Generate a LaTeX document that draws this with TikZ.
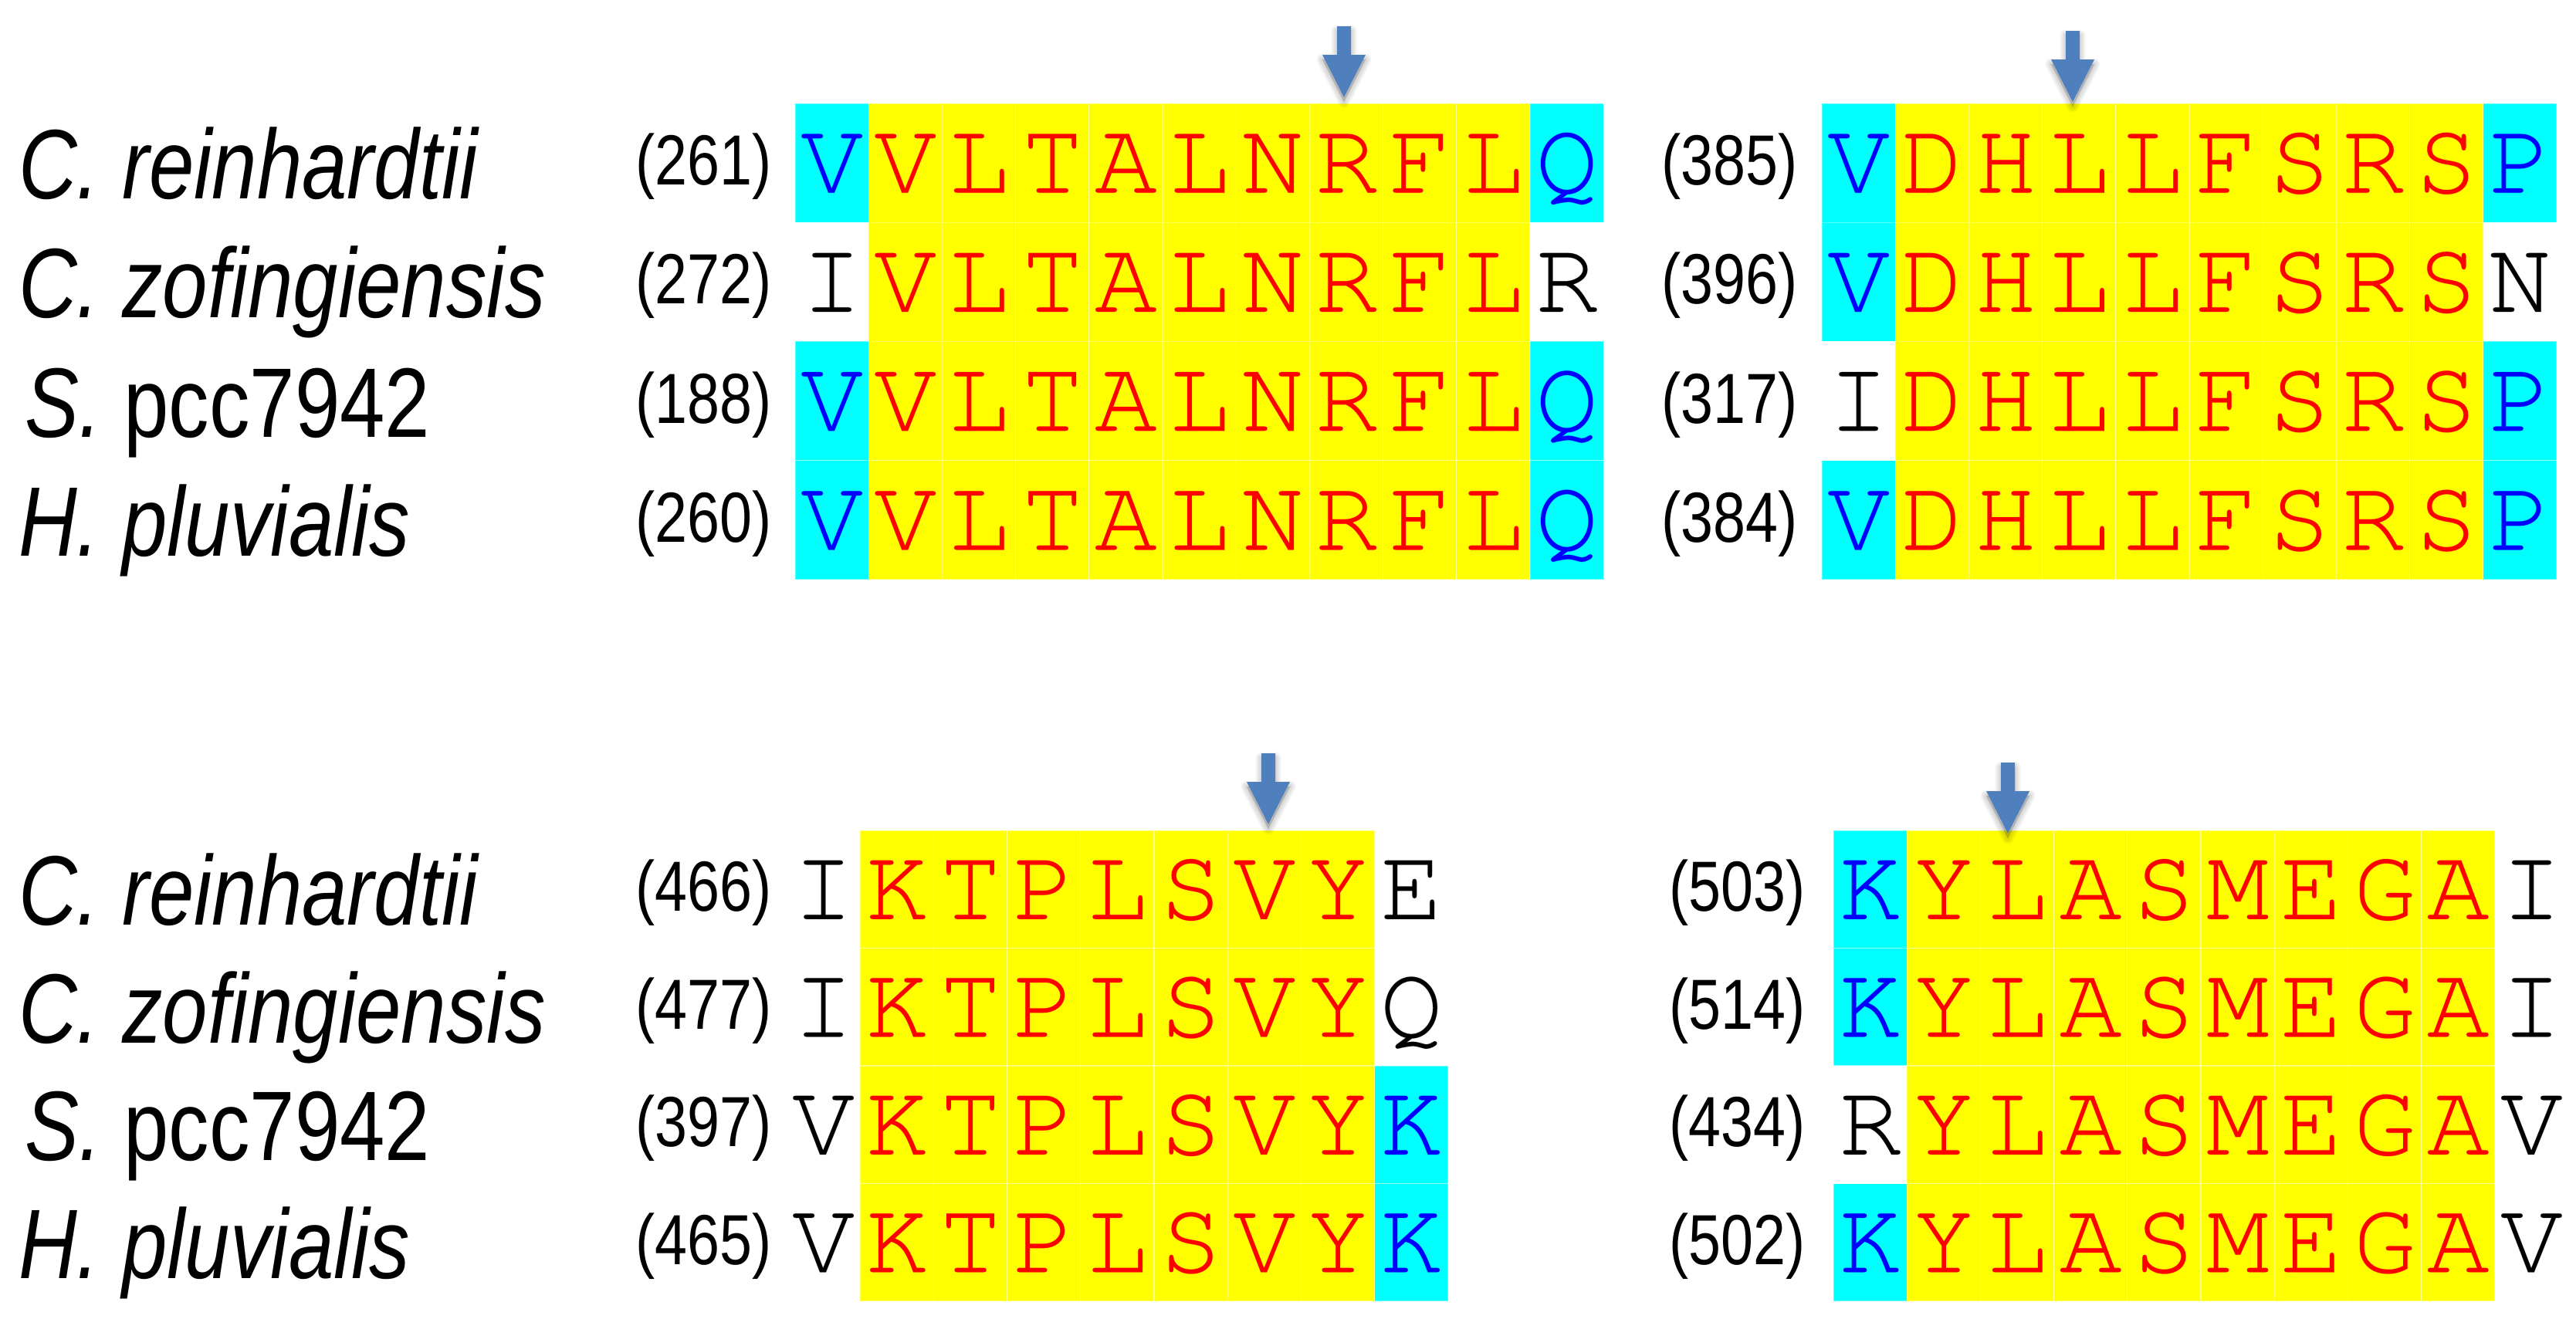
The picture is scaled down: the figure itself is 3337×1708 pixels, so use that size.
\documentclass[tikz,border=0pt]{standalone}
\usepackage{fontspec}
\newfontfamily\seqfont[FakeBold=0.6]{TeX Gyre Cursor}
\newfontfamily\namefont[FakeStretch=0.82]{Liberation Sans}
\definecolor{cyanbg}{RGB}{0,255,255}
\definecolor{yellowbg}{RGB}{255,255,0}
\definecolor{redtxt}{RGB}{255,0,0}
\definecolor{bluetxt}{RGB}{0,0,255}
\definecolor{arrowblue}{RGB}{79,127,189}
\tikzset{
  cell/.style={minimum width=95.2pt, minimum height=#1, inner sep=0pt, outer sep=0pt,
    text height=77pt, text depth=0pt, draw=white, draw opacity=0.35, line width=1.2pt,
    font=\seqfont\fontsize{135}{135}\selectfont},
  numlab/.style={anchor=base east, inner sep=0pt, font=\namefont\fontsize{92}{92}\selectfont},
  spname/.style={anchor=base west, inner sep=0pt, font=\namefont\fontsize{128}{128}\selectfont\itshape},
  arrowfill/.style={fill=arrowblue},
  arrowshade/.style={draw=black, fill=black, opacity=0.045, line join=round},
}
% #1 panel, #2 row, #3 left x, #4 centre y, #5 row height, #6 list bg/fg/letter
\newcommand{\alnrow}[6]{%
  \foreach \bg/\fg/\ch [count=\k] in {#6} {
    \node[cell=#5pt, fill=\bg, text=\fg] (#1-#2-\k) at ({#3+(\k-0.5)*95.2}, #4) {\ch};
  }
}
\newcommand{\markarrow}[3]{%
  \coordinate (#1) at (#2,#3);
  \foreach \w in {3,7,11,15} {
    \path[arrowshade, line width=\w pt] ([yshift=-6pt]#1) -- ++(-28,-55) -- ++(19,0) -- ++(0,-37) -- ++(18,0) -- ++(0,37) -- ++(19,0) -- cycle;
  }
  \fill[arrowfill] (#1) -- ++(-28,-55) -- ++(19,0) -- ++(0,-37) -- ++(18,0) -- ++(0,37) -- ++(19,0) -- cycle;
}
\begin{document}
\begin{tikzpicture}[x=1pt,y=-1pt]
\useasboundingbox[fill=white] (0,0) rectangle (3337,1708);

% ---------- species names ----------
\node[spname] (n1) at (24,257) {C. reinhardtii};
\node[spname] (n2) at (24,411) {C. zofingiensis};
\node[spname] (n3) at (32,566) {S.\upshape\ pcc7942};
\node[spname] (n4) at (24,720) {H. pluvialis};
\node[spname] (n5) at (24,1198) {C. reinhardtii};
\node[spname] (n6) at (24,1351) {C. zofingiensis};
\node[spname] (n7) at (32,1503) {S.\upshape\ pcc7942};
\node[spname] (n8) at (24,1656) {H. pluvialis};

% ---------- panel 1 ----------
\alnrow{pa}{1}{1030}{211.1}{154.3}{cyanbg/bluetxt/V,yellowbg/redtxt/V,yellowbg/redtxt/L,yellowbg/redtxt/T,yellowbg/redtxt/A,yellowbg/redtxt/L,yellowbg/redtxt/N,yellowbg/redtxt/R,yellowbg/redtxt/F,yellowbg/redtxt/L,cyanbg/bluetxt/Q}
\alnrow{pa}{2}{1030}{365.4}{154.3}{white/black/I,yellowbg/redtxt/V,yellowbg/redtxt/L,yellowbg/redtxt/T,yellowbg/redtxt/A,yellowbg/redtxt/L,yellowbg/redtxt/N,yellowbg/redtxt/R,yellowbg/redtxt/F,yellowbg/redtxt/L,white/black/R}
\alnrow{pa}{3}{1030}{519.6}{154.3}{cyanbg/bluetxt/V,yellowbg/redtxt/V,yellowbg/redtxt/L,yellowbg/redtxt/T,yellowbg/redtxt/A,yellowbg/redtxt/L,yellowbg/redtxt/N,yellowbg/redtxt/R,yellowbg/redtxt/F,yellowbg/redtxt/L,cyanbg/bluetxt/Q}
\alnrow{pa}{4}{1030}{673.9}{154.3}{cyanbg/bluetxt/V,yellowbg/redtxt/V,yellowbg/redtxt/L,yellowbg/redtxt/T,yellowbg/redtxt/A,yellowbg/redtxt/L,yellowbg/redtxt/N,yellowbg/redtxt/R,yellowbg/redtxt/F,yellowbg/redtxt/L,cyanbg/bluetxt/Q}
\node[numlab] (pa-n1) at (1000,239) {(261)};
\node[numlab] (pa-n2) at (1000,393) {(272)};
\node[numlab] (pa-n3) at (1000,548) {(188)};
\node[numlab] (pa-n4) at (1000,702) {(260)};

% ---------- panel 2 ----------
\alnrow{pb}{1}{2360}{211.1}{154.3}{cyanbg/bluetxt/V,yellowbg/redtxt/D,yellowbg/redtxt/H,yellowbg/redtxt/L,yellowbg/redtxt/L,yellowbg/redtxt/F,yellowbg/redtxt/S,yellowbg/redtxt/R,yellowbg/redtxt/S,cyanbg/bluetxt/P}
\alnrow{pb}{2}{2360}{365.4}{154.3}{cyanbg/bluetxt/V,yellowbg/redtxt/D,yellowbg/redtxt/H,yellowbg/redtxt/L,yellowbg/redtxt/L,yellowbg/redtxt/F,yellowbg/redtxt/S,yellowbg/redtxt/R,yellowbg/redtxt/S,white/black/N}
\alnrow{pb}{3}{2360}{519.6}{154.3}{white/black/I,yellowbg/redtxt/D,yellowbg/redtxt/H,yellowbg/redtxt/L,yellowbg/redtxt/L,yellowbg/redtxt/F,yellowbg/redtxt/S,yellowbg/redtxt/R,yellowbg/redtxt/S,cyanbg/bluetxt/P}
\alnrow{pb}{4}{2360}{673.9}{154.3}{cyanbg/bluetxt/V,yellowbg/redtxt/D,yellowbg/redtxt/H,yellowbg/redtxt/L,yellowbg/redtxt/L,yellowbg/redtxt/F,yellowbg/redtxt/S,yellowbg/redtxt/R,yellowbg/redtxt/S,cyanbg/bluetxt/P}
\node[numlab] (pb-n1) at (2329,239) {(385)};
\node[numlab] (pb-n2) at (2329,393) {(396)};
\node[numlab] (pb-n3) at (2329,548) {(317)};
\node[numlab] (pb-n4) at (2329,702) {(384)};

% ---------- panel 3 ----------
\alnrow{pc}{1}{1019}{1152.3}{152.5}{white/black/I,yellowbg/redtxt/K,yellowbg/redtxt/T,yellowbg/redtxt/P,yellowbg/redtxt/L,yellowbg/redtxt/S,yellowbg/redtxt/V,yellowbg/redtxt/Y,white/black/E}
\alnrow{pc}{2}{1019}{1304.8}{152.5}{white/black/I,yellowbg/redtxt/K,yellowbg/redtxt/T,yellowbg/redtxt/P,yellowbg/redtxt/L,yellowbg/redtxt/S,yellowbg/redtxt/V,yellowbg/redtxt/Y,white/black/Q}
\alnrow{pc}{3}{1019}{1457.3}{152.5}{white/black/V,yellowbg/redtxt/K,yellowbg/redtxt/T,yellowbg/redtxt/P,yellowbg/redtxt/L,yellowbg/redtxt/S,yellowbg/redtxt/V,yellowbg/redtxt/Y,cyanbg/bluetxt/K}
\alnrow{pc}{4}{1019}{1609.8}{152.5}{white/black/V,yellowbg/redtxt/K,yellowbg/redtxt/T,yellowbg/redtxt/P,yellowbg/redtxt/L,yellowbg/redtxt/S,yellowbg/redtxt/V,yellowbg/redtxt/Y,cyanbg/bluetxt/K}
\node[numlab] (pc-n1) at (1000,1180) {(466)};
\node[numlab] (pc-n2) at (1000,1333) {(477)};
\node[numlab] (pc-n3) at (1000,1485) {(397)};
\node[numlab] (pc-n4) at (1000,1638) {(465)};

% ---------- panel 4 ----------
\alnrow{pd}{1}{2375}{1152.3}{152.5}{cyanbg/bluetxt/K,yellowbg/redtxt/Y,yellowbg/redtxt/L,yellowbg/redtxt/A,yellowbg/redtxt/S,yellowbg/redtxt/M,yellowbg/redtxt/E,yellowbg/redtxt/G,yellowbg/redtxt/A,white/black/I}
\alnrow{pd}{2}{2375}{1304.8}{152.5}{cyanbg/bluetxt/K,yellowbg/redtxt/Y,yellowbg/redtxt/L,yellowbg/redtxt/A,yellowbg/redtxt/S,yellowbg/redtxt/M,yellowbg/redtxt/E,yellowbg/redtxt/G,yellowbg/redtxt/A,white/black/I}
\alnrow{pd}{3}{2375}{1457.3}{152.5}{white/black/R,yellowbg/redtxt/Y,yellowbg/redtxt/L,yellowbg/redtxt/A,yellowbg/redtxt/S,yellowbg/redtxt/M,yellowbg/redtxt/E,yellowbg/redtxt/G,yellowbg/redtxt/A,white/black/V}
\alnrow{pd}{4}{2375}{1609.8}{152.5}{cyanbg/bluetxt/K,yellowbg/redtxt/Y,yellowbg/redtxt/L,yellowbg/redtxt/A,yellowbg/redtxt/S,yellowbg/redtxt/M,yellowbg/redtxt/E,yellowbg/redtxt/G,yellowbg/redtxt/A,white/black/V}
\node[numlab] (pd-n1) at (2339,1180) {(503)};
\node[numlab] (pd-n2) at (2339,1333) {(514)};
\node[numlab] (pd-n3) at (2339,1485) {(434)};
\node[numlab] (pd-n4) at (2339,1638) {(502)};

% ---------- arrows ----------
\markarrow{ar1}{1741}{126}
\markarrow{ar2}{2685}{132}
\markarrow{ar3}{1643}{1068}
\markarrow{ar4}{2601}{1080}
\end{tikzpicture}
\end{document}
